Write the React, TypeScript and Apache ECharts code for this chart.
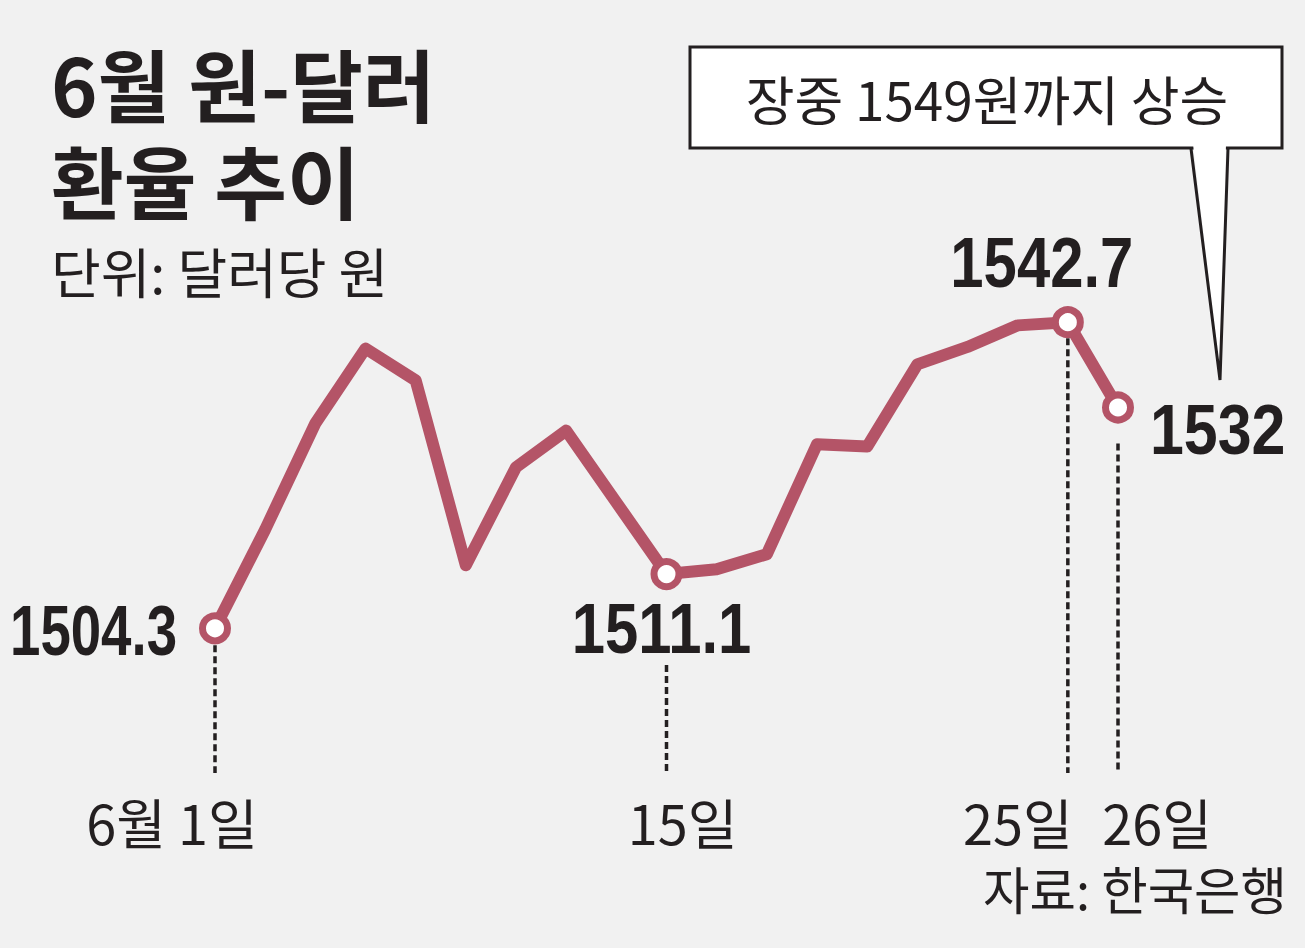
import React, { useEffect, useRef } from "react";
import * as echarts from "echarts";

// Trading days in June (won per dollar, closing rate)
const days = ["6월 1일", "2일", "4일", "5일", "8일", "9일", "10일", "11일", "12일", "15일", "16일", "17일", "18일", "19일", "22일", "23일", "24일", "25일", "26일"];
const rates = [1504.3, 1516.7, 1530.0, 1539.4, 1535.4, 1512.2, 1524.5, 1529.1, 1520.1, 1511.1, 1511.7, 1513.6, 1527.4, 1527.1, 1537.4, 1539.6, 1542.3, 1542.7, 1532.0];
// Points that carry a marker and a value label
const markedIdx = [0, 9, 17, 18];
// Tick labels shown under the chart
const tickIdx = [0, 9, 17, 18];
const tickLabels = ["6월 1일", "15일", "25일", "26일"];

const titleLines = ["6월 원-달러", "환율 추이"];
const unitText = "단위: 달러당 원";
const calloutText = "장중 1549원까지 상승";
const sourceText = "자료: 한국은행";

const LINE = "#b45467";
const INK = "#231f20";
const BG = "#f1f1f1";
const KR = "'Noto Sans CJK KR', sans-serif";
const NUM = "'Liberation Sans', 'Noto Sans', sans-serif";

// label placement relative to the point (style only)
const valueLabelPos: Record<number, { dx: number; dy: number; align: string; sx: number }> = {
  0: { dx: -38, dy: 2, align: "right", sx: 0.78 },
  9: { dx: -5, dy: 55, align: "center", sx: 0.855 },
  17: { dx: -26, dy: -59, align: "center", sx: 0.855 },
  18: { dx: 32, dy: 23, align: "left", sx: 0.87 },
};
const tickDx: Record<number, number> = { 0: -43, 9: 16, 17: -50, 18: 39 };
const dropStart: Record<number, number> = { 0: 17, 9: 91, 17: 16, 18: 36 };

function fmt(v: number) {
  return Number.isInteger(v) ? String(v) : v.toFixed(1);
}

function txt(x: number, y: number, text: string, size: number, family: string, weight: string, align: string, sx = 1, lh?: number) {
  return {
    type: "text",
    x,
    y,
    scaleX: sx,
    scaleY: 1,
    originX: 0,
    originY: 0,
    silent: true,
    z: 10,
    style: {
      text,
      fontSize: size,
      fontFamily: family,
      fontWeight: weight,
      lineHeight: lh ?? Math.round(size * 0.95),
      fill: INK,
      align,
      textAlign: align,
      verticalAlign: "middle",
      textVerticalAlign: "middle",
    },
  };
}

export default function App() {
  const ref = useRef<HTMLDivElement>(null);
  useEffect(() => {
    if (!ref.current) return;
    const chart = echarts.init(ref.current, null, { renderer: "svg" });
    chart.setOption({
      animation: false,
      backgroundColor: BG,
      grid: { left: 215, right: 187, top: 264, bottom: 126 },
      xAxis: {
        type: "category",
        data: days,
        boundaryGap: false,
        show: false,
      },
      yAxis: { type: "value", min: 1480, max: 1550, show: false },
      series: [
        {
          type: "line",
          data: rates.map((v, i) =>
            markedIdx.includes(i)
              ? { value: v, symbol: "circle", symbolSize: 25 }
              : { value: v, symbol: "none" }
          ),
          showSymbol: true,
          lineStyle: { color: LINE, width: 12, join: "round" },
          itemStyle: { color: "#ffffff", borderColor: LINE, borderWidth: 7 },
          z: 5,
        },
      ],
    });

    const g: any[] = [];
    const pt = (i: number) => chart.convertToPixel({ seriesIndex: 0 }, [i, rates[i]]) as number[];

    // drop lines
    markedIdx.forEach((i) => {
      const [x, y] = pt(i);
      g.push({
        type: "line",
        silent: true,
        z: 1,
        shape: { x1: x, y1: y + dropStart[i], x2: x, y2: 773 },
        style: { stroke: INK, lineWidth: 3.5, lineDash: [7, 4] },
      });
    });
    // value labels
    markedIdx.forEach((i) => {
      const [x, y] = pt(i);
      const p = valueLabelPos[i];
      g.push(txt(x + p.dx, y + p.dy, fmt(rates[i]), 70, NUM, "bold", p.align, p.sx));
    });
    // tick labels
    tickIdx.forEach((i, k) => {
      const [x] = pt(i);
      g.push(txt(x + tickDx[i], 821, tickLabels[k], 54, KR, "normal", "center"));
    });

    // title (two lines in one block), unit, source
    g.push(txt(51, 131, titleLines.join("\n"), 79, KR, "bold", "left", 1, 97));
    g.push(txt(51, 270, unitText, 54, KR, "normal", "left"));
    g.push(txt(1287, 888, sourceText, 51, KR, "normal", "right", 0.99));

    // callout box
    g.push({
      type: "rect",
      silent: true,
      z: 8,
      shape: { x: 690, y: 47, width: 592, height: 101 },
      style: { fill: "#ffffff", stroke: INK, lineWidth: 3 },
    });
    g.push({
      type: "polygon",
      silent: true,
      z: 9,
      shape: { points: [[1193, 144], [1220, 376], [1226, 144]] },
      style: { fill: "#ffffff" },
    });
    g.push({
      type: "polyline",
      silent: true,
      z: 9,
      shape: { points: [[1191, 148.5], [1220, 380], [1228, 148.5]] },
      style: { stroke: INK, lineWidth: 3, fill: null },
    });
    g.push(txt(987, 98, calloutText, 53, KR, "normal", "center"));

    chart.setOption({ graphic: g });
    return () => chart.dispose();
  }, []);

  return <div ref={ref} style={{ position: "fixed", left: 0, top: 0, width: 1305, height: 948 }} />;
}
